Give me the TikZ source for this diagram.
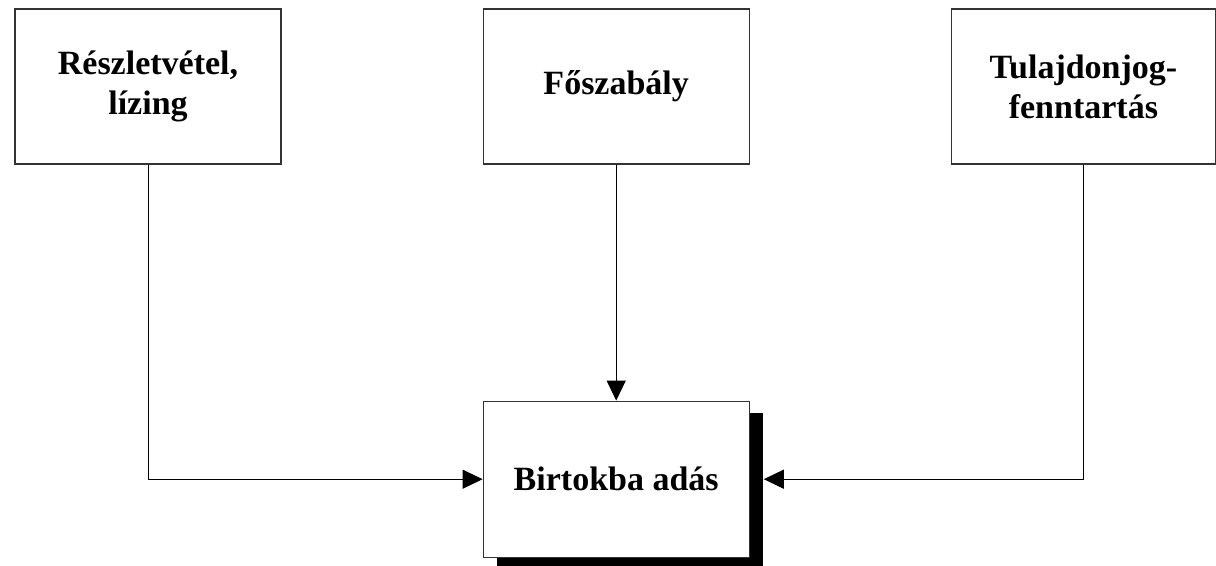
\documentclass[tikz,border=0pt]{standalone}
\usepackage{fontspec}
\setmainfont{Liberation Serif}
\usetikzlibrary{arrows.meta, positioning, shadows}

\begin{document}
\begin{tikzpicture}[x=0.5pt, y=-0.5pt, node distance=100.5pt, every node/.style={font=\fontsize{17}{20}\selectfont\bfseries}]
            \useasboundingbox (0,0) rectangle (1216,566);
            \node[draw=black!80, line width=0.6pt, rectangle, fill=white, minimum width=133pt, minimum height=77.5pt, align=center] (RL) at (148,86.5) {Részletvétel,\\lízing};
            \node[draw=black!80, line width=0.6pt, rectangle, fill=white, minimum width=133pt, minimum height=77.5pt, align=center, right=of RL] (FS) {Főszabály};
            \node[draw=black!80, line width=0.6pt, rectangle, fill=white, minimum width=132pt, minimum height=77.5pt, align=center, right=of FS] (TF) {Tulajdonjog-\\fenntartás};

            \node[draw=black!80, line width=0.6pt, rectangle, fill=white, minimum width=133pt, minimum height=78pt, align=center, below=118pt of FS, drop shadow={shadow xshift=7pt, shadow yshift=-6pt, opacity=1, fill=black}] (BA) {Birtokba adás};

            \draw[line width=0.5pt, -{Triangle[length=10pt, width=9.5pt]}] (RL.south) |- (BA.west);
            \draw[line width=0.5pt, -{Triangle[length=10pt, width=9.5pt]}] (FS.south) -- (BA.north);
            \draw[line width=0.5pt, -{Triangle[length=10pt, width=9.5pt]}] (TF.south) |- ([xshift=7pt]BA.east);
        \end{tikzpicture}
\end{document}
